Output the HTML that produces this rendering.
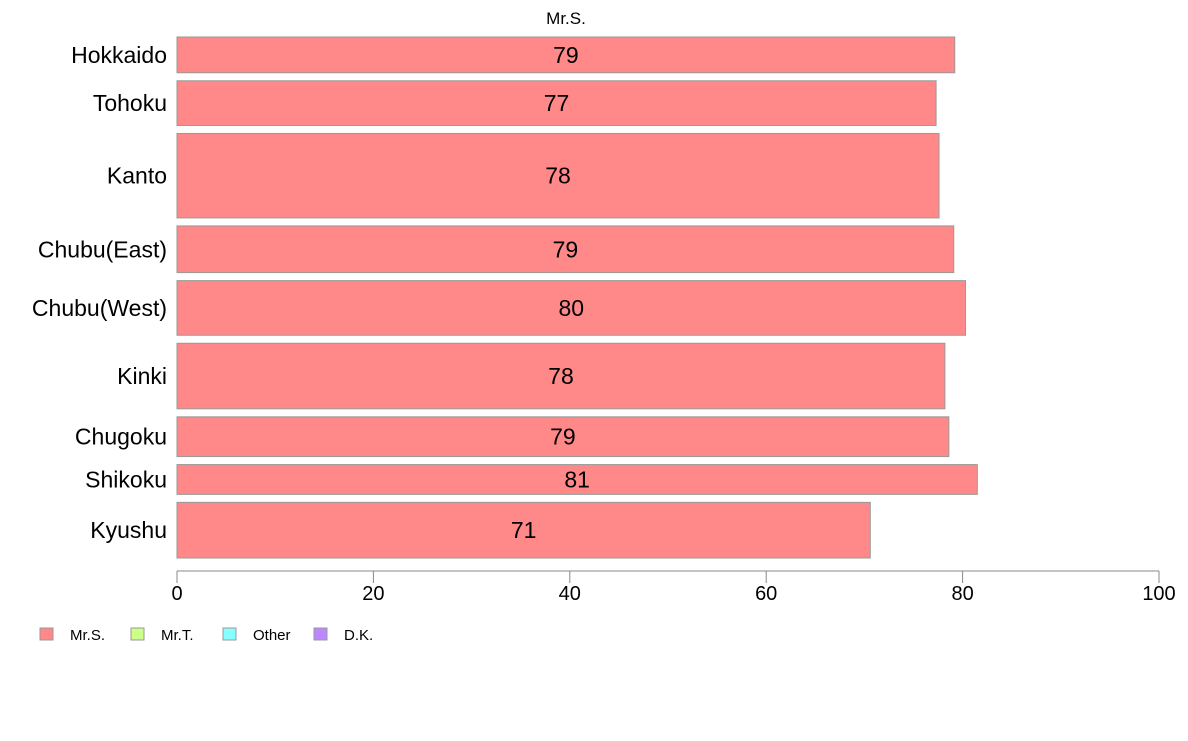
<!DOCTYPE html>
<html><head><meta charset="utf-8"><style>
body{margin:0;background:#fff;}
svg text{font-family:"Liberation Sans",sans-serif;}
</style></head><body>
<svg id="chart" width="1188" height="736">
<text x="566" y="24" font-size="17" text-anchor="middle">Mr.S.</text>
<g id="bars"></g>
<g id="axis"></g>
<g id="legend"></g>
</svg>
<script>
const categories=["Hokkaido","Tohoku","Kanto","Chubu(East)","Chubu(West)","Kinki","Chugoku","Shikoku","Kyushu"];
const values=[79.2,77.3,77.6,79.1,80.3,78.2,78.6,81.5,70.6];
const labels=["79","77","78","79","80","78","79","81","71"];
const weights=[36,45,85,47,55,66,40,30,56];
const ticks=[0,20,40,60,80,100];
const legendNames=["Mr.S.","Mr.T.","Other","D.K."];
const legendColors=["#ff8888","#ccff88","#88ffff","#bb88ff"];
const NS="http://www.w3.org/2000/svg";
const x0=177,x1=1159,plotTop=37,plotBottom=558,gap=8;
const sx=v=>x0+(v/100)*(x1-x0);
const total=weights.reduce((a,b)=>a+b,0);
const unit=(plotBottom-plotTop-gap*(weights.length-1))/total;
function mk(t,a,p){const e=document.createElementNS(NS,t);for(const k in a)e.setAttribute(k,a[k]);p.appendChild(e);return e;}
const gb=document.getElementById('bars');
let y=plotTop;
categories.forEach((c,i)=>{
 const h=weights[i]*unit;
 const r=mk('rect',{x:x0,y:y,width:sx(values[i])-x0,height:h,fill:'#ff8888',stroke:'#999','stroke-width':1},gb);
 
 
 const l=mk('text',{x:sx(values[i]/2),y:y+h/2+8,'font-size':23,'text-anchor':'middle'},gb);
 l.textContent=labels[i];
 
 
 const cl=mk('text',{x:167,y:y+h/2+8,'font-size':23,'text-anchor':'end'},gb);
 cl.textContent=c;
 
 
 y+=h+gap;
});
const ga=document.getElementById('axis');
const al=mk('line',{x1:x0,x2:x1,y1:571,y2:571,stroke:'#888','stroke-width':1},ga);


ticks.forEach(t=>{
 const tl=mk('line',{x1:sx(t),x2:sx(t),y1:571,y2:583,stroke:'#888'},ga);
 
 
 const tt=mk('text',{x:sx(t),y:600,'font-size':20,'text-anchor':'middle'},ga);
 tt.textContent=t;
 
 
});
const gl=document.getElementById('legend');
const lx=[40,131,223,314];
legendNames.forEach((n,i)=>{
 const s=mk('rect',{x:lx[i],y:628,width:13,height:12,fill:legendColors[i],stroke:'#999'},gl);
 
 
 const t=mk('text',{x:lx[i]+30,y:640,'font-size':15},gl);
 t.textContent=n;
 
 
});
</script>
</body></html>
